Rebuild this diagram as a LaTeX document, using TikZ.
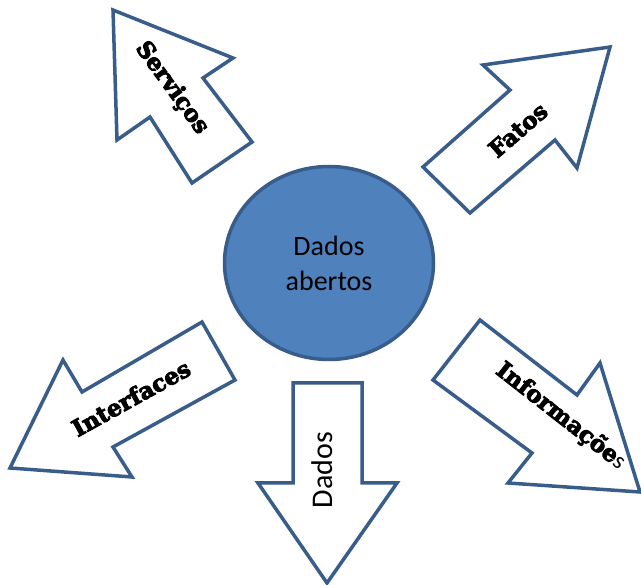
\documentclass[tikz,border=0pt]{standalone}
\usepackage{fontspec}
\usetikzlibrary{shapes.geometric}
\setmainfont{Carlito}
\newfontface\grossa[FakeBold=4]{DejaVu Serif Bold}
\definecolor{bordaazul}{RGB}{56,93,138}
\definecolor{miolo}{RGB}{79,129,189}
\begin{document}
\begin{tikzpicture}[x=1pt,y=-1pt]
        \tikzset{
        seta/.style={draw=bordaazul, line width=3.5pt, fill=white, line join=miter},
        centro/.style={ellipse, draw=bordaazul, line width=3.5pt, fill=miolo,
        minimum width=209pt, minimum height=193pt, align=center,
        font=\fontsize{28}{35}\selectfont},
        rotulo/.style={inner sep=0pt, font=\grossa\fontsize{23}{23}\selectfont},
        leve/.style={inner sep=0pt, font=\fontsize{30}{30}\selectfont},
        }
        \useasboundingbox (0,0) rectangle (641,585);

        % setas
        \draw[seta] (113,10) -- (233,58) -- (203,78) -- (252,142) -- (192,183) -- (150,117) -- (117,140) -- cycle;
        \draw[seta] (610,47) -- (577,168) -- (555,140) -- (470,213) -- (423,167) -- (510,90) -- (483,65) -- cycle;
        \draw[seta] (10,468) -- (63,360) -- (82,392) -- (202,322) -- (235,380) -- (113,447) -- (132,477) -- cycle;
        \draw[seta] (293,383) -- (362,383) -- (362,483) -- (397,483) -- (327,583) -- (258,483) -- (293,483) -- cycle;
        \draw[seta] (480,320) -- (577,395) -- (600,363) -- (640,492) -- (508,483) -- (532,453) -- (433,380) -- cycle;

        % no central
        \node[centro] (dados) at (329,263) {Dados\\abertos};

        % rotulos
        \node[rotulo, rotate=-54] (servicos) at (172,88) {Serviços};
        \node[rotulo, rotate=41] (fatos) at (518,130) {Fatos};
        \node[rotulo, rotate=29] (interfaces) at (131,398) {Interfaces};
        \node[rotulo, rotate=-38] (informacoes) at (561,416) {Informaçõe{\normalfont\fontsize{24}{24}\selectfont s}};
        \node[leve, rotate=90] (dadosseta) at (322,470) {Dados};
\end{tikzpicture}
\end{document}
